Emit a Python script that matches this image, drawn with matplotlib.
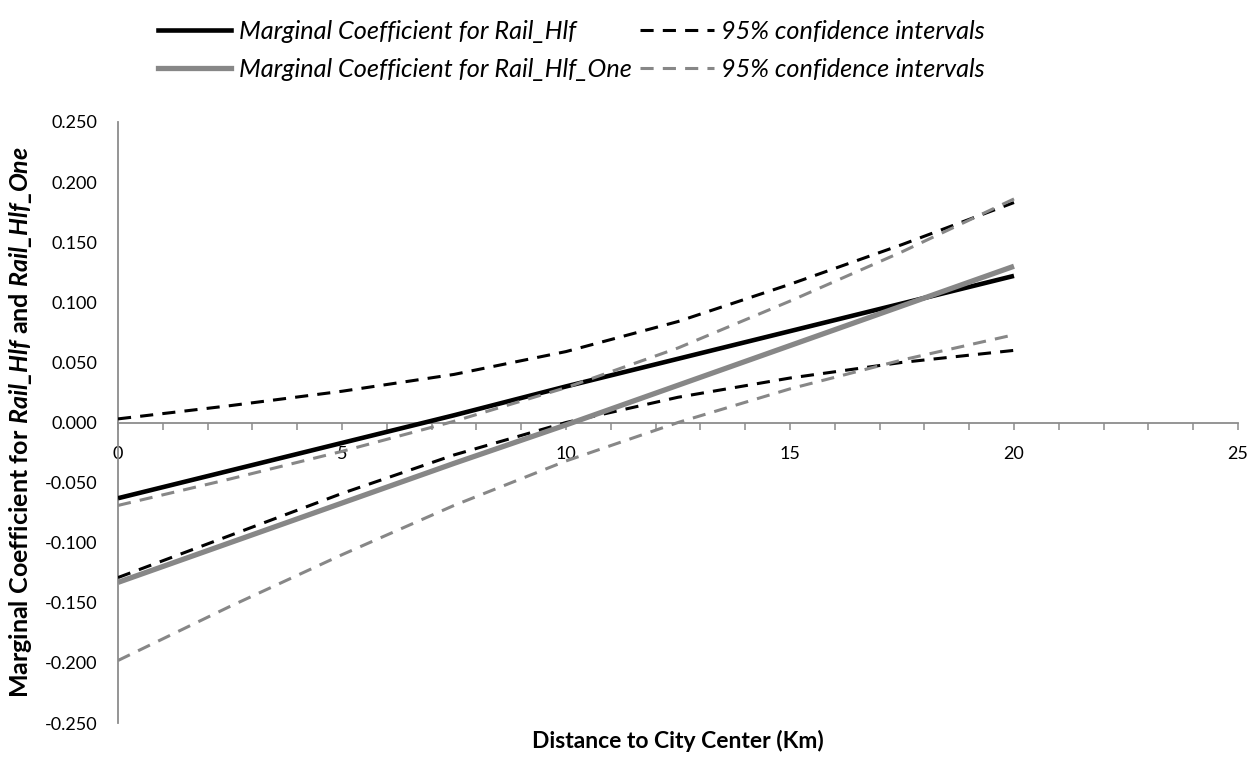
import matplotlib
matplotlib.use("Agg")
import matplotlib.pyplot as plt
from matplotlib.ticker import MultipleLocator, FormatStrFormatter
from matplotlib.lines import Line2D

plt.rcParams['font.family'] = ['Lato', 'DejaVu Sans']
plt.rcParams['mathtext.fontset'] = 'custom'
plt.rcParams['mathtext.rm'] = 'Lato'
plt.rcParams['mathtext.bf'] = 'Lato:bold'
plt.rcParams['mathtext.it'] = 'Lato:italic'
plt.rcParams['mathtext.bfit'] = 'Lato:bold:italic'

# Distance to city centre (km)
distance = [0, 2.5, 5, 7.5, 10, 12.5, 15, 17.5, 20]

# Rail_Hlf marginal coefficient and 95% CI
hlf_coef = [-0.063, -0.040, -0.017, 0.006, 0.030, 0.053, 0.076, 0.099, 0.122]
hlf_upper = [0.003, 0.014, 0.026, 0.040, 0.059, 0.084, 0.115, 0.148, 0.183]
hlf_lower = [-0.129, -0.094, -0.059, -0.027, 0.000, 0.021, 0.037, 0.050, 0.060]

# Rail_Hlf_One marginal coefficient and 95% CI
one_coef = [-0.133, -0.100, -0.067, -0.034, -0.002, 0.031, 0.064, 0.097, 0.130]
one_upper = [-0.069, -0.047, -0.024, 0.001, 0.029, 0.062, 0.101, 0.142, 0.186]
one_lower = [-0.198, -0.153, -0.110, -0.069, -0.032, 0.000, 0.028, 0.052, 0.073]

x_ticks = [0, 5, 10, 15, 20, 25]
y_ticks = [-0.25, -0.2, -0.15, -0.1, -0.05, 0, 0.05, 0.1, 0.15, 0.2, 0.25]

legend_labels = ['Marginal Coefficient for Rail_Hlf', 'Marginal Coefficient for Rail_Hlf_One',
                 '95% confidence intervals', '95% confidence intervals']

W, H = 1251, 757
fig = plt.figure(figsize=(W / 100, H / 100), dpi=100)
left, right, top, bottom = 118, 1238, 122, 723
ax = fig.add_axes([left / W, 1 - bottom / H, (right - left) / W, (bottom - top) / H])

GRAY = '#878787'
AXC = '#8c8c8c'
LW_B, LW_G, LW_D = 3.3, 3.8, 2.2
DASH = (4.3, 3.0)

ax.plot(distance, hlf_coef, color='black', lw=LW_B, solid_capstyle='butt', zorder=3)
ax.plot(distance, hlf_upper, color='black', lw=LW_D, dashes=DASH, dash_capstyle='butt', zorder=3)
ax.plot(distance, hlf_lower, color='black', lw=LW_D, dashes=DASH, dash_capstyle='butt', zorder=3)
ax.plot(distance, one_coef, color=GRAY, lw=LW_G, solid_capstyle='butt', zorder=4)
ax.plot(distance, one_upper, color=GRAY, lw=LW_D, dashes=DASH, dash_capstyle='butt', zorder=4)
ax.plot(distance, one_lower, color=GRAY, lw=LW_D, dashes=DASH, dash_capstyle='butt', zorder=4)

ax.set_xlim(0, 25)
ax.set_ylim(-0.25, 0.25)
ax.set_xticks(x_ticks)
ax.xaxis.set_minor_locator(MultipleLocator(1))
ax.set_yticks(y_ticks)
ax.yaxis.set_major_formatter(FormatStrFormatter('%.3f'))

for s in ['top', 'right']:
    ax.spines[s].set_visible(False)
ax.spines['bottom'].set_position(('data', 0))
for s in ['left', 'bottom']:
    ax.spines[s].set_color(AXC)
    ax.spines[s].set_linewidth(1.3)

ax.tick_params(axis='x', which='both', direction='out', length=5, width=1.1, color=AXC,
               labelsize=13, pad=12)
ax.tick_params(axis='y', which='both', length=0, labelsize=13, pad=15)

ax.set_xlabel('Distance to City Center (Km)', fontsize=16.5, fontweight='bold', labelpad=0)
ax.xaxis.set_label_coords(0.5, -0.012)
ax.set_ylabel(r'$\mathbf{Marginal\ Coefficient\ for\ }\mathbfit{Rail\_Hlf}'
              r'\mathbf{\ and\ }\mathbfit{Rail\_Hlf\_One}$', fontsize=18)
ax.yaxis.set_label_coords(-0.075, 0.5)

handles = [
    Line2D([], [], color='black', lw=LW_B),
    Line2D([], [], color=GRAY, lw=LW_G),
    Line2D([], [], color='black', lw=LW_D, dashes=DASH),
    Line2D([], [], color=GRAY, lw=LW_D, dashes=DASH),
]
leg = fig.legend(handles, legend_labels, ncol=2, loc='upper left',
                 bbox_to_anchor=(145 / W, 1 - 7 / H), borderpad=0,
                 frameon=False, prop={'style': 'italic', 'size': 18.2}, handlelength=2.9,
                 handletextpad=0.3, columnspacing=0.35, labelspacing=0.6)

fig.savefig('out.png', dpi=100)
